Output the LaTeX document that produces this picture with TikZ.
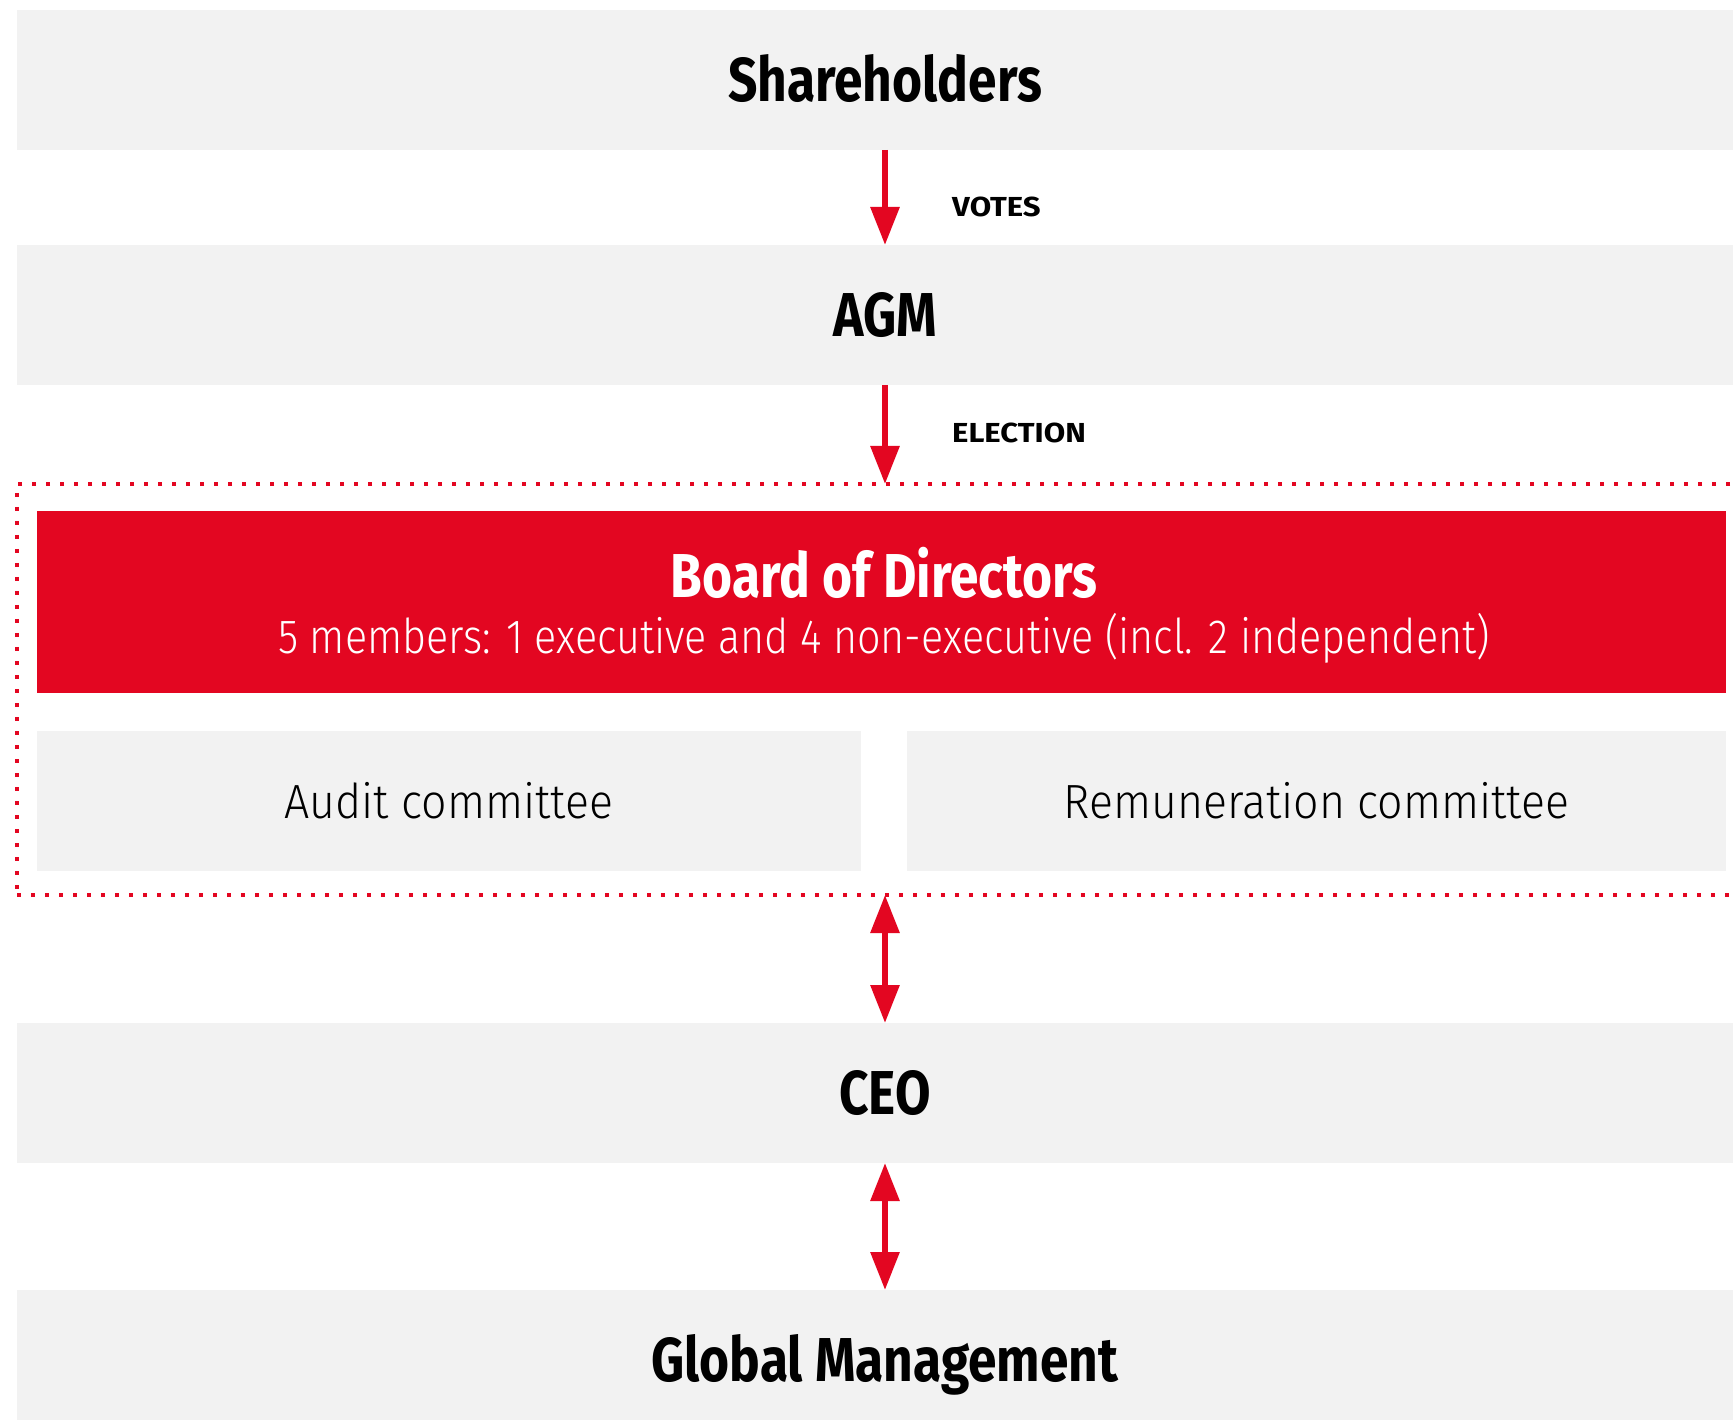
\documentclass[tikz,border=0pt]{standalone}
\usepackage{fontspec}
\setmainfont{Fira Sans}
\newfontfamily\headfont[FakeStretch=0.83]{Fira Sans}
\newfontfamily\tagfont[FakeStretch=1.13]{Fira Sans}
\newfontfamily\lightfont[FakeStretch=0.93]{Fira Sans Light}
\newfontfamily\infofont[FakeStretch=0.86]{Fira Sans Light}
\usetikzlibrary{arrows.meta}
\definecolor{boardred}{RGB}{227,6,33}
\definecolor{bandgray}{RGB}{242,242,242}
\tikzstyle{arrow} = [line width=6pt, draw=boardred, -{Triangle[width=28pt,length=38pt]}]
\tikzstyle{twoway} = [line width=6pt, draw=boardred, {Triangle[width=28pt,length=38pt]}-{Triangle[width=28pt,length=38pt]}]
\tikzstyle{band} = [rectangle, fill=bandgray, minimum width=1736pt, minimum height=140pt, inner sep=0pt, outer sep=0pt, text height=43pt, text depth=0pt, font=\headfont\bfseries\fontsize{62}{70}\selectfont]
\tikzstyle{committee} = [rectangle, fill=bandgray, minimum height=140pt, inner sep=0pt, outer sep=0pt, text height=34pt, text depth=0pt, font=\lightfont\fontsize{48}{56}\selectfont]
\tikzstyle{tag} = [inner sep=0pt, anchor=west, font=\tagfont\bfseries\fontsize{27.5}{30}\selectfont]

\begin{document}
\begin{tikzpicture}[x=1pt, y=-1pt]
		\useasboundingbox (0,0) rectangle (1733,1420);
		\node(share) [band] at (885,80) {Shareholders};
		\node(agm) [band] at (885,315) {AGM};
		\node(frame) [rectangle, draw=boardred, line width=4pt, dash pattern=on 4pt off 10pt, minimum width=1736pt, minimum height=411pt, inner sep=0pt, outer sep=0pt] at (885,689.5) {};
		\node(board) [rectangle, fill=boardred, minimum width=1689pt, minimum height=182pt, inner sep=0pt] at (881.5,602) {};
		\node(boardname) [anchor=base, text=white, inner sep=0pt, font=\headfont\bfseries\fontsize{62}{70}\selectfont] at (884,597) {Board of Directors};
		\node(boardinfo) [anchor=base, text=white, inner sep=0pt, font=\infofont\fontsize{48}{56}\selectfont] at (884,653) {5 members: 1 executive and 4 non-executive (incl. 2 independent)};
		\node(audit) [committee, minimum width=824pt] at (449,801) {Audit committee};
		\node(remun) [committee, minimum width=819pt] at (1316.5,801) {Remuneration committee};
		\node(ceo) [band] at (885,1093) {CEO};
		\node(gm) [band] at (885,1360) {Global Management};
		\node(votes) [tag] at (952,207) {VOTES};
		\node(election) [tag] at (952,433) {ELECTION};
		\draw [arrow] (share) -- (agm);
		\draw [arrow] (agm) -- (frame);
		\draw [twoway] (frame) -- (ceo);
		\draw [twoway] (ceo) -- (gm);
	\end{tikzpicture}
\end{document}
